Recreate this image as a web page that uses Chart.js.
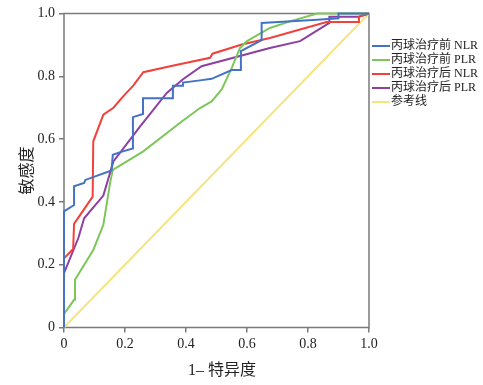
<!DOCTYPE html>
<html>
<head>
<meta charset="utf-8">
<script src="https://cdn.jsdelivr.net/npm/chart.js@4"></script>
<style>
  html, body { margin: 0; padding: 0; background: #fff; }
  #wrap { width: 483px; height: 385px; }
</style>
</head>
<body>
<div id="wrap"><canvas id="roc" width="483" height="385"></canvas></div>
<script>
// ROC points: 1 - specificity (x) and sensitivity (y)
const labels = ['丙球治疗前 NLR', '丙球治疗前 PLR', '丙球治疗后 NLR', '丙球治疗后 PLR', '参考线'];
const colors = ['#4472c4', '#7cc65a', '#f2403c', '#8e3fa0', '#f5e482'];

const preNlrX = [0, 0, 0.033, 0.033, 0.066, 0.07, 0.156, 0.16, 0.19, 0.226, 0.226, 0.259, 0.259, 0.357, 0.357, 0.39, 0.39, 0.446, 0.484, 0.55, 0.58, 0.58, 0.648, 0.648, 0.83, 0.9, 0.9, 1];
const preNlrY = [0, 0.37, 0.39, 0.45, 0.46, 0.47, 0.50, 0.55, 0.56, 0.57, 0.67, 0.68, 0.73, 0.73, 0.77, 0.77, 0.78, 0.787, 0.792, 0.82, 0.82, 0.88, 0.915, 0.97, 0.98, 0.985, 1, 1];

const prePlrX = [0, 0, 0.033, 0.036, 0.096, 0.129, 0.151, 0.16, 0.26, 0.386, 0.446, 0.484, 0.517, 0.55, 0.577, 0.6, 0.675, 0.741, 0.83, 1];
const prePlrY = [0, 0.043, 0.088, 0.152, 0.247, 0.327, 0.46, 0.502, 0.561, 0.656, 0.699, 0.72, 0.758, 0.827, 0.89, 0.912, 0.954, 0.975, 1, 1];

const postNlrX = [0, 0, 0.03, 0.033, 0.094, 0.096, 0.129, 0.162, 0.194, 0.227, 0.26, 0.348, 0.479, 0.487, 0.583, 0.675, 0.861, 0.967, 0.967, 1];
const postNlrY = [0, 0.22, 0.25, 0.33, 0.417, 0.593, 0.678, 0.70, 0.736, 0.77, 0.813, 0.832, 0.859, 0.872, 0.901, 0.922, 0.973, 0.973, 0.99, 1];

const postPlrX = [0, 0, 0.047, 0.066, 0.129, 0.162, 0.249, 0.337, 0.389, 0.451, 0.675, 0.774, 0.87, 0.87, 0.967, 1];
const postPlrY = [0, 0.173, 0.285, 0.348, 0.42, 0.529, 0.64, 0.747, 0.79, 0.832, 0.89, 0.912, 0.97, 0.99, 0.99, 1];

const refX = [0, 1];
const refY = [0, 1];

const tickValues = [0, 0.2, 0.4, 0.6, 0.8, 1.0];

const serif = '"Liberation Serif", "Times New Roman", "Noto Sans CJK SC", serif';

function toPoints(xs, ys) {
  return xs.map((x, i) => ({ x: x, y: ys[i] }));
}

const series = [
  toPoints(preNlrX, preNlrY),
  toPoints(prePlrX, prePlrY),
  toPoints(postNlrX, postNlrY),
  toPoints(postPlrX, postPlrY),
  toPoints(refX, refY)
];

function tickLabel(v) {
  return v === 0 ? '0' : v.toFixed(1);
}

// Box round the plot area, x title and the legend on the right
const framePlugin = {
  id: 'frame',
  beforeDatasetsDraw(chart) {
    const { ctx, chartArea } = chart;
    ctx.save();
    ctx.strokeStyle = '#7a7a7a';
    ctx.lineWidth = 1.5;
    ctx.strokeRect(chartArea.left, chartArea.top, chartArea.right - chartArea.left, chartArea.bottom - chartArea.top);
    ctx.restore();
  },
  afterDraw(chart) {
    const { ctx, chartArea } = chart;
    ctx.save();
    ctx.fillStyle = '#222';
    ctx.font = '16px ' + serif;
    ctx.textAlign = 'center';
    ctx.textBaseline = 'middle';
    ctx.fillText('1– 特异度', 222, 371);

    ctx.font = '12px ' + serif;
    ctx.textAlign = 'left';
    chart.data.datasets.forEach((ds, i) => {
      const y = 46 + i * 14;
      const x0 = chartArea.right + 3;
      ctx.strokeStyle = ds.borderColor;
      ctx.lineWidth = 2;
      ctx.beginPath();
      ctx.moveTo(x0, y);
      ctx.lineTo(x0 + 18, y);
      ctx.stroke();
      ctx.fillStyle = '#222';
      ctx.fillText(ds.label, x0 + 19, y);
    });
    ctx.restore();
  }
};

const ctx = document.getElementById('roc').getContext('2d');
new Chart(ctx, {
  type: 'line',
  data: {
    datasets: series.map((pts, i) => ({
      label: labels[i],
      data: pts,
      borderColor: colors[i],
      backgroundColor: colors[i],
      borderWidth: 2,
      pointRadius: 0,
      tension: 0,
      fill: false,
      clip: 4
    }))
  },
  options: {
    responsive: false,
    animation: false,
    layout: { padding: { top: 13.5, right: 114, left: 0, bottom: 0 } },
    plugins: {
      legend: { display: false },
      tooltip: { enabled: false }
    },
    scales: {
      x: {
        type: 'linear',
        min: 0,
        max: 1,
        afterFit(scale) { scale.height = 57.5; },
        afterBuildTicks(scale) { scale.ticks = tickValues.map(v => ({ value: v })); },
        grid: { display: true, drawOnChartArea: false, drawTicks: true, tickLength: 5, color: '#7a7a7a', lineWidth: 1.5 },
        border: { display: false },
        ticks: {
          padding: 3,
          color: '#222',
          font: { family: serif, size: 14 },
          callback: tickLabel,
          maxRotation: 0
        }
      },
      y: {
        type: 'linear',
        min: 0,
        max: 1,
        afterFit(scale) { scale.width = 64; },
        afterBuildTicks(scale) { scale.ticks = tickValues.map(v => ({ value: v })); },
        grid: { display: true, drawOnChartArea: false, drawTicks: true, tickLength: 5, color: '#7a7a7a', lineWidth: 1.5 },
        border: { display: false },
        ticks: {
          padding: 4,
          color: '#222',
          font: { family: serif, size: 14 },
          callback: tickLabel
        },
        title: {
          display: true,
          text: '敏感度',
          color: '#222',
          font: { family: serif, size: 16 },
          padding: { top: 18, bottom: 0 }
        }
      }
    }
  },
  plugins: [framePlugin]
});
</script>
</body>
</html>
